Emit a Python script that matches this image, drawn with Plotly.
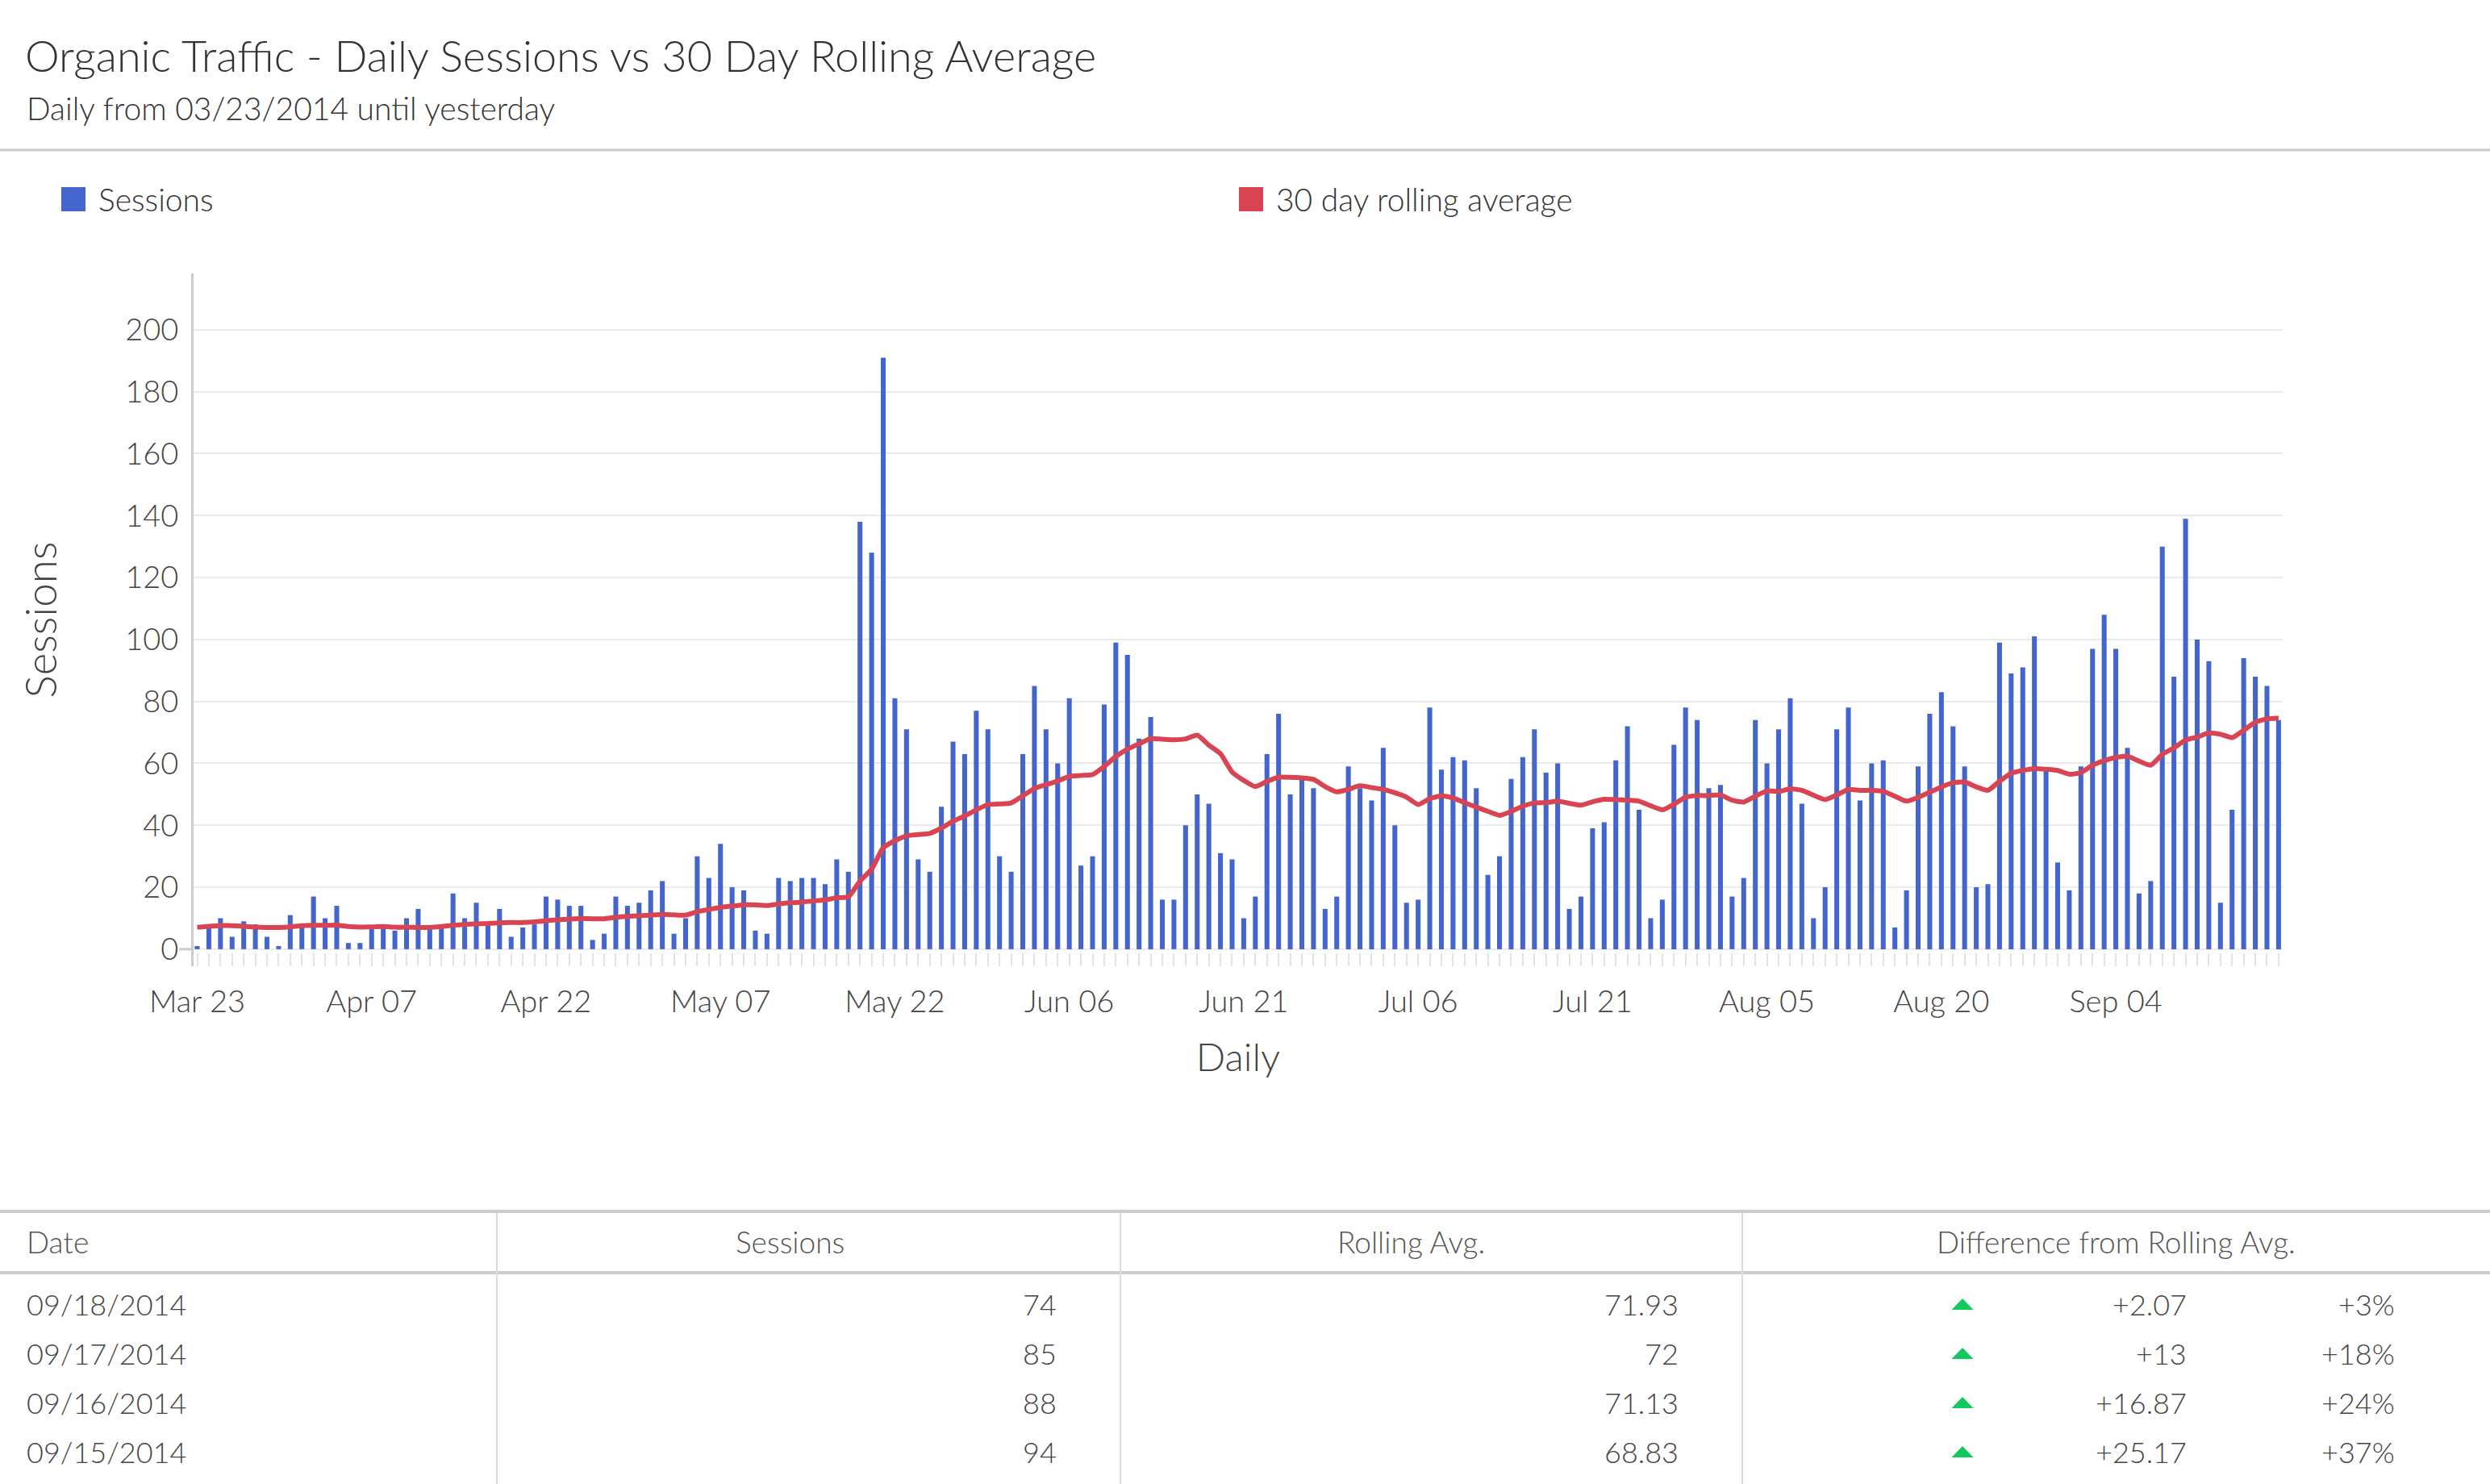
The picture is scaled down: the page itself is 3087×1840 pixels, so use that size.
import pandas as pd
import plotly.graph_objects as go

# ---------------- data ----------------
start_date = "2014-03-23"
days = pd.date_range(start_date, periods=180, freq="D")

sessions = [1, 7, 10, 4, 9, 8, 4, 1, 11, 7,
            17, 10, 14, 2, 2, 7, 7, 6, 10, 13,
            7, 7, 18, 10, 15, 8, 13, 4, 7, 8,
            17, 16, 14, 14, 3, 5, 17, 14, 15, 19,
            22, 5, 10, 30, 23, 34, 20, 19, 6, 5,
            23, 22, 23, 23, 21, 29, 25, 138, 128, 191,
            81, 71, 29, 25, 46, 67, 63, 77, 71, 30,
            25, 63, 85, 71, 60, 81, 27, 30, 79, 99,
            95, 68, 75, 16, 16, 40, 50, 47, 31, 29,
            10, 17, 63, 76, 50, 55, 52, 13, 17, 59,
            52, 48, 65, 40, 15, 16, 78, 58, 62, 61,
            52, 24, 30, 55, 62, 71, 57, 60, 13, 17,
            39, 41, 61, 72, 45, 10, 16, 66, 78, 74,
            52, 53, 17, 23, 74, 60, 71, 81, 47, 10,
            20, 71, 78, 48, 60, 61, 7, 19, 59, 76,
            83, 72, 59, 20, 21, 99, 89, 91, 101, 58,
            28, 19, 59, 97, 108, 97, 65, 18, 22, 130,
            88, 139, 100, 93, 15, 45, 94, 88, 85, 74]

rolling_avg = [7.1, 7.4, 7.6, 7.6, 7.4, 7.1, 7.0, 7.0, 7.2, 7.6,
               7.7, 7.7, 7.8, 7.3, 7.1, 7.2, 7.3, 7.1, 7.1, 7.0,
               7.0, 7.3, 7.7, 8.0, 8.2, 8.3, 8.5, 8.6, 8.6, 8.8,
               9.2, 9.5, 9.7, 9.9, 9.8, 9.8, 10.3, 10.6, 10.8, 11.0,
               11.2, 11.1, 11.0, 12.1, 12.8, 13.5, 13.9, 14.3, 14.3, 14.1,
               14.6, 15.0, 15.2, 15.6, 15.9, 16.6, 16.9, 22.0, 25.8, 32.8,
               35.0, 36.6, 37.0, 37.4, 39.1, 41.3, 43.0, 45.0, 46.7, 46.9,
               47.2, 49.5, 51.9, 53.1, 54.3, 55.8, 56.1, 56.4, 59.0, 62.2,
               64.6, 66.3, 68.0, 67.8, 67.6, 67.9, 69.1, 65.9, 63.1, 57.2,
               54.5, 52.5, 54.2, 55.5, 55.5, 55.3, 54.8, 52.5, 50.8, 51.6,
               52.8, 52.2, 51.6, 50.5, 49.1, 46.7, 48.6, 49.5, 48.8, 47.3,
               45.9, 44.5, 43.2, 44.5, 46.2, 47.2, 47.3, 47.8, 47.1, 46.5,
               47.6, 48.4, 48.3, 48.1, 47.8, 46.3, 45.0, 46.8, 49.1, 49.6,
               49.6, 49.8, 48.1, 47.5, 49.4, 51.1, 50.9, 51.8, 51.3, 49.7,
               48.3, 49.8, 51.6, 51.3, 51.3, 51.0, 49.4, 47.8, 49.0, 50.7,
               52.4, 53.7, 54.0, 52.4, 51.3, 54.2, 56.8, 57.7, 58.3, 58.1,
               57.7, 56.5, 57.0, 59.4, 60.9, 61.9, 62.3, 60.7, 59.4, 62.9,
               65.0, 67.5, 68.5, 69.8, 69.4, 68.3, 70.7, 73.3, 74.4, 74.6]

y_ticks = [0, 20, 40, 60, 80, 100, 120, 140, 160, 180, 200]

table_headers = ["Date", "Sessions", "Rolling Avg.", "Difference from Rolling Avg."]
table_dates = ["09/18/2014", "09/17/2014", "09/16/2014", "09/15/2014"]
table_sessions = ["74", "85", "88", "94"]
table_rolling = ["71.93", "72", "71.13", "68.83"]
table_diff = ["+2.07", "+13", "+16.87", "+25.17"]
table_pct = ["+3%", "+18%", "+24%", "+37%"]

title_text = "Organic Traffic - Daily Sessions vs 30 Day Rolling Average"
subtitle_text = "Daily from 03/23/2014 until yesterday"

# ---------------- style ----------------
W, H = 3087, 1840
ML, MR, MT, MB = 240, 257, 339, 642
PW, PH = W - ML - MR, H - MT - MB
FONT = "Lato, 'Open Sans', sans-serif"
BLUE = "#4466cc"
RED = "#d94452"
GREEN = "#12c95e"
DAY_MS = 86400000


def px(x):
    return (x - ML) / PW


def py(y):
    return (H - MB - y) / PH


fig = go.Figure()
fig.add_trace(go.Bar(x=days, y=sessions, name="Sessions", marker=dict(color=BLUE, line=dict(width=0)),
                     width=0.42 * DAY_MS, showlegend=False))
fig.add_trace(go.Scatter(x=days, y=rolling_avg, name="30 day rolling average", mode="lines",
                         line=dict(color=RED, width=6, shape="spline", smoothing=0.5), showlegend=False))

x0 = days[0] - pd.Timedelta(hours=7.5)
x1 = days[-1] + pd.Timedelta(hours=8.5)

fig.update_layout(
    width=W, height=H,
    margin=dict(l=ML, r=MR, t=MT, b=MB, pad=0),
    paper_bgcolor="white", plot_bgcolor="white",
    font=dict(family=FONT, size=38, color="#333333", weight=300),
    barmode="overlay",
    title=dict(text=title_text, x=31 / W, xanchor="left", xref="container",
               y=1 - 70 / H, yanchor="middle", yref="container",
               font=dict(family=FONT, size=54, color="#333333", weight=300)),
    xaxis=dict(type="date", range=[x0, x1], tick0=start_date, dtick=15 * DAY_MS,
               tickformat="%b %d", ticks="inside", ticklen=16, tickwidth=2, tickcolor="#e3e3e3",
               minor=dict(dtick=DAY_MS, ticks="inside", ticklen=16, tickwidth=2, tickcolor="#e3e3e3",
                          showgrid=False),
               showgrid=False, showline=False, zeroline=False,
               tickfont=dict(size=38, color="#444444"), ticklabelstandoff=18,
               title=dict(text="Daily", font=dict(size=48, color="#444444"), standoff=32)),
    yaxis=dict(range=[-5.5, 218.2], tickvals=y_ticks, showgrid=True, gridcolor="#ebebeb", gridwidth=2,
               showline=True, linecolor="#cccccc", linewidth=3, zeroline=False, ticks="",
               ticklabelstandoff=8, tickfont=dict(size=38, color="#444444"),
               title=dict(text="Sessions", font=dict(size=53, color="#444444"), standoff=68)),
)

shapes = []
annotations = []

# subtitle
annotations.append(dict(text=subtitle_text, x=px(31), y=py(134), xref="paper", yref="paper",
                        xanchor="left", yanchor="middle", showarrow=False,
                        font=dict(size=39, color="#333333")))
# separator below header
shapes.append(dict(type="line", xref="paper", yref="paper", x0=px(0), x1=px(W), y0=py(186), y1=py(186),
                   line=dict(color="#c8c8c8", width=3)))

# manual legend
legend_items = [("Sessions", BLUE, 76), ("30 day rolling average", RED, 1536)]
for name, color, lx in legend_items:
    shapes.append(dict(type="rect", xref="paper", yref="paper", x0=px(lx), x1=px(lx + 30),
                       y0=py(262), y1=py(232), fillcolor=color, line=dict(width=0)))
    annotations.append(dict(text=name, x=px(lx + 44), y=py(247), xref="paper", yref="paper",
                            xanchor="left", yanchor="middle", showarrow=False,
                            font=dict(size=39, color="#333333")))

# stub of the x baseline left of the y axis
shapes.append(dict(type="line", xref="paper", yref="y", x0=px(222), x1=px(240), y0=0, y1=0,
                   line=dict(color="#cccccc", width=3)))

# ---- table ----
shapes.append(dict(type="line", xref="paper", yref="paper", x0=px(0), x1=px(W), y0=py(1502), y1=py(1502),
                   line=dict(color="#cccccc", width=4)))
shapes.append(dict(type="line", xref="paper", yref="paper", x0=px(0), x1=px(W), y0=py(1578), y1=py(1578),
                   line=dict(color="#cccccc", width=4)))
for vx in [616, 1389, 2160]:
    shapes.append(dict(type="line", xref="paper", yref="paper", x0=px(vx), x1=px(vx), y0=py(1504), y1=py(H),
                       line=dict(color="#dddddd", width=2)))

header_pos = [(31, "left"), (979, "center"), (1750, "center"), (2623, "center")]
for text, (hx, anchor) in zip(table_headers, header_pos):
    annotations.append(dict(text=text, x=px(hx), y=py(1539), xref="paper", yref="paper",
                            xanchor=anchor, yanchor="middle", showarrow=False,
                            font=dict(size=37, color="#555555")))

row_y = [1617, 1678, 1739, 1800]
for i, ry in enumerate(row_y):
    cells = [(table_dates[i], 31, "left"), (table_sessions[i], 1312, "right"),
             (table_rolling[i], 2083, "right"), (table_diff[i], 2713, "right"),
             (table_pct[i], 2971, "right")]
    for text, cx, anchor in cells:
        annotations.append(dict(text=text, x=px(cx), y=py(ry), xref="paper", yref="paper",
                                xanchor=anchor, yanchor="middle", showarrow=False,
                                font=dict(size=36, color="#444444")))
    # green "up" indicator triangle
    tx, tw, th = 2433, 27, 14
    path = "M {:.6f},{:.6f} L {:.6f},{:.6f} L {:.6f},{:.6f} Z".format(
        px(tx - tw / 2), py(ry + th / 2), px(tx + tw / 2), py(ry + th / 2), px(tx), py(ry - th / 2))
    shapes.append(dict(type="path", xref="paper", yref="paper", path=path,
                       fillcolor=GREEN, line=dict(width=0)))

fig.update_layout(shapes=shapes, annotations=annotations)

fig.write_html("out.html", config={"displayModeBar": False},
               post_script="document.body.style.margin='0';document.body.style.overflow='hidden';")
